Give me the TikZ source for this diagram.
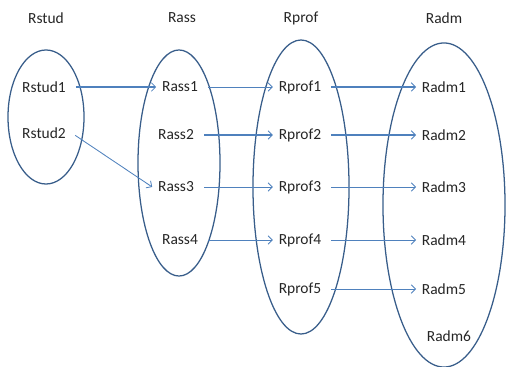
\documentclass[tikz,border=0pt]{standalone}
\usepackage{fontspec}
\setmainfont{Carlito}
\usepackage{xcolor}
\usepackage{tikz}
\usetikzlibrary{shapes.geometric,arrows.meta,positioning}
\definecolor{setblue}{RGB}{56,93,138}
\definecolor{linkblue}{RGB}{79,129,189}

\begin{document}
\begin{tikzpicture}[
    x=0.025cm, y=-0.025cm,
    set/.style={ellipse, draw=setblue, line width=0.9pt, inner sep=0pt},
    elem/.style={font=\fontsize{11}{13}\selectfont, text=black!85, inner sep=4pt},
    title/.style={font=\fontsize{11}{13}\selectfont, text=black!85},
    link/.style={-{Straight Barb[length=3pt,width=6pt,line width=0.6pt]}, draw=linkblue, line width=0.6pt, shorten <=3pt},
    strong/.style={link, line width=1.1pt}
]
    \useasboundingbox (0,0) rectangle (506,367);

    % Titles
    \node[title] (tstud) at (46,18) {Rstud};
    \node[title] (tass) at (182,18) {Rass};
    \node[title] (tprof) at (301,18) {Rprof};
    \node[title] (tadm) at (444,18) {Radm};

    % Sets (ellipses)
    \node[set, minimum width=1.9cm, minimum height=3.35cm] (stud) at (46,117) {};
    \node[set, minimum width=2.05cm, minimum height=5.65cm] (ass) at (179,163) {};
    \node[set, minimum width=2.4cm, minimum height=7.35cm] (prof) at (301,187) {};
    \node[set, minimum width=3.05cm, minimum height=8.1cm] (adm) at (444,205) {};

    % Elements of Rstud
    \node[elem] (stud1) at (44,87) {Rstud1};
    \node[elem] (stud2) at (44,133) {Rstud2};

    % Elements of Rass
    \node[elem] (ass1) at (180,87) {Rass1};
    \node[elem] (ass2) at (176,135) {Rass2};
    \node[elem] (ass3) at (176,187) {Rass3};
    \node[elem] (ass4) at (180,240) {Rass4};

    % Elements of Rprof
    \node[elem] (prof1) at (300,87) {Rprof1};
    \node[elem] (prof2) at (300,135) {Rprof2};
    \node[elem] (prof3) at (300,187) {Rprof3};
    \node[elem] (prof4) at (300,240) {Rprof4};
    \node[elem] (prof5) at (300,289) {Rprof5};

    % Elements of Radm
    \node[elem] (adm1) at (444,87) {Radm1};
    \node[elem] (adm2) at (444,135) {Radm2};
    \node[elem] (adm3) at (444,187) {Radm3};
    \node[elem] (adm4) at (444,240) {Radm4};
    \node[elem] (adm5) at (444,289) {Radm5};
    \node[elem] (adm6) at (449,336) {Radm6};

    % Mappings
    \draw[strong] (stud1) -- (ass1);
    \draw[link] (stud2.east) -- (ass3.west);

    \draw[link] (ass1) -- (prof1);
    \draw[strong] (ass2) -- (prof2);
    \draw[link] (ass3) -- (prof3);
    \draw[link] (ass4) -- (prof4);

    \draw[strong] (prof1) -- (adm1);
    \draw[strong] (prof2) -- (adm2);
    \draw[link] (prof3) -- (adm3);
    \draw[link] (prof4) -- (adm4);
    \draw[link] (prof5) -- (adm5);
\end{tikzpicture}
\end{document}
